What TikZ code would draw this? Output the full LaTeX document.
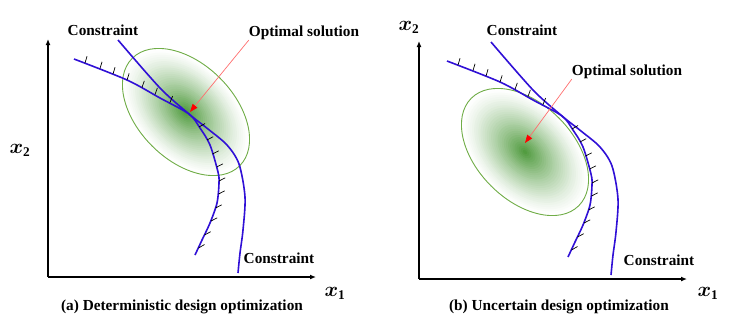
\documentclass[tikz,border=0pt]{standalone}
\usepackage{amsmath, amssymb}
\usepackage{bm}
\usepackage{fontspec}
\setmainfont{Liberation Serif}
\usepackage{tikz}
\usetikzlibrary{arrows.meta,calc,positioning}
\definecolor{consblue}{RGB}{48,16,214}
\definecolor{darkgreen}{RGB}{58,142,38}
\definecolor{rimgreen}{RGB}{112,173,71}
\definecolor{arrowred}{RGB}{255,110,110}

\begin{document}
\begin{tikzpicture}[x=1bp,y=1bp,
    txt/.style={font=\fontsize{15.3bp}{18bp}\selectfont\bfseries, inner sep=0pt},
    axlabel/.style={font=\fontsize{19bp}{22bp}\selectfont, inner sep=0pt},
    axis/.style={line width=1.4bp, -{Latex[length=6bp,width=5bp]}},
    cons/.style={consblue, line width=1.6bp},
    hatchline/.style={black, line width=0.7bp},
    rim/.style={rimgreen, line width=0.9bp},
    pointer/.style={arrowred, line width=0.7bp, -{Triangle[red,length=8bp,width=6bp]}}]
  \useasboundingbox (0,0) rectangle (730,322);
  %Color fill
  \foreach \cx/\cy in {186/210, 525/170} {
      \begin{scope}[shift={(\cx,\cy)}, rotate=-45]
        \foreach \k in {0,...,29} {
            \pgfmathsetmacro{\s}{1-\k/30} % shrink factor
            \pgfmathtruncatemacro{\p}{92*(\k/30)^1.25} % green share
            \fill[darkgreen!\p!white] (0,0) ellipse ({76*\s} and {48*\s});
          }
        \draw[rim] (0,0) ellipse (76 and 48);
      \end{scope}
    }
  %Draw axes and constraints
  \foreach \ox/\oy/\dx [count=\n] in {48/45/0, 419/43/2} {
      \coordinate (O\n) at (\ox,\oy);
      \coordinate (X\n) at (\ox+268,\oy);
      \coordinate (Y\n) at (\ox,\oy+238);
      \draw[axis] (O\n) -- (X\n);
      \draw[axis] (O\n) -- (Y\n);
      \begin{scope}[shift={(\ox+\dx,\oy)}]
        \draw[cons] plot[smooth] coordinates {(70,237) (112,189) (141,163) (160,148) (179,132) (191,113) (197,80) (195,47) (192,24) (190,4)};
        \draw[cons] plot[smooth] coordinates {(26,218) (79,197) (112,179) (141,163) (152,149) (162,132) (170,105) (171,94) (169,74) (162,54) (154,37) (147,22)};
        %hatch marks on the feasible boundary
        \foreach \tx/\ty/\ta in {37/214/73, 52/208.5/73, 65/203/73, 79/197/72, 94/189.5/71, 107/182.5/70, 122/174.5/68,
            151/150/30, 159/137/28, 164.5/123/27, 168.7/110/27, 171/96/27, 170.5/83/27, 167.5/69/27, 163/56/27, 156.5/42/28, 150.5/29/30} {
            \draw[hatchline] (\tx,\ty) -- ++(\ta:7);
          }
      \end{scope}
    }
  %Draw labels
  \node[txt] (conA1) at (103,292) {Constraint};
  \node[txt] (conA2) at (279,64) {Constraint};
  \node[txt] (optA) at (304,289) {Optimal solution};
  \node[txt] (capA) at (182,15) {(a) Deterministic design optimization};
  \node[axlabel] (xA1) at (335,29) {$\bm{x}_{\mathbf{1}}$};
  \node[axlabel] (xA2) at (20,172) {$\bm{x}_{\mathbf{2}}$};
  \node[txt] (conB1) at (522,292) {Constraint};
  \node[txt] (conB2) at (659,62) {Constraint};
  \node[txt] (optB) at (627,250) {Optimal solution};
  \node[txt] (capB) at (559,15) {(b) Uncertain design optimization};
  \node[axlabel] (xB1) at (708,29) {$\bm{x}_{\mathbf{1}}$};
  \node[axlabel] (xB2) at (409,295) {$\bm{x}_{\mathbf{2}}$};
  %Draw pointers
  \coordinate (optptA) at (190,210);
  \coordinate (optptB) at (525,179);
  \draw[pointer] (optA.south west) -- (optptA);
  \draw[pointer] (optB.south west) -- (optptB);
\end{tikzpicture}
\end{document}
